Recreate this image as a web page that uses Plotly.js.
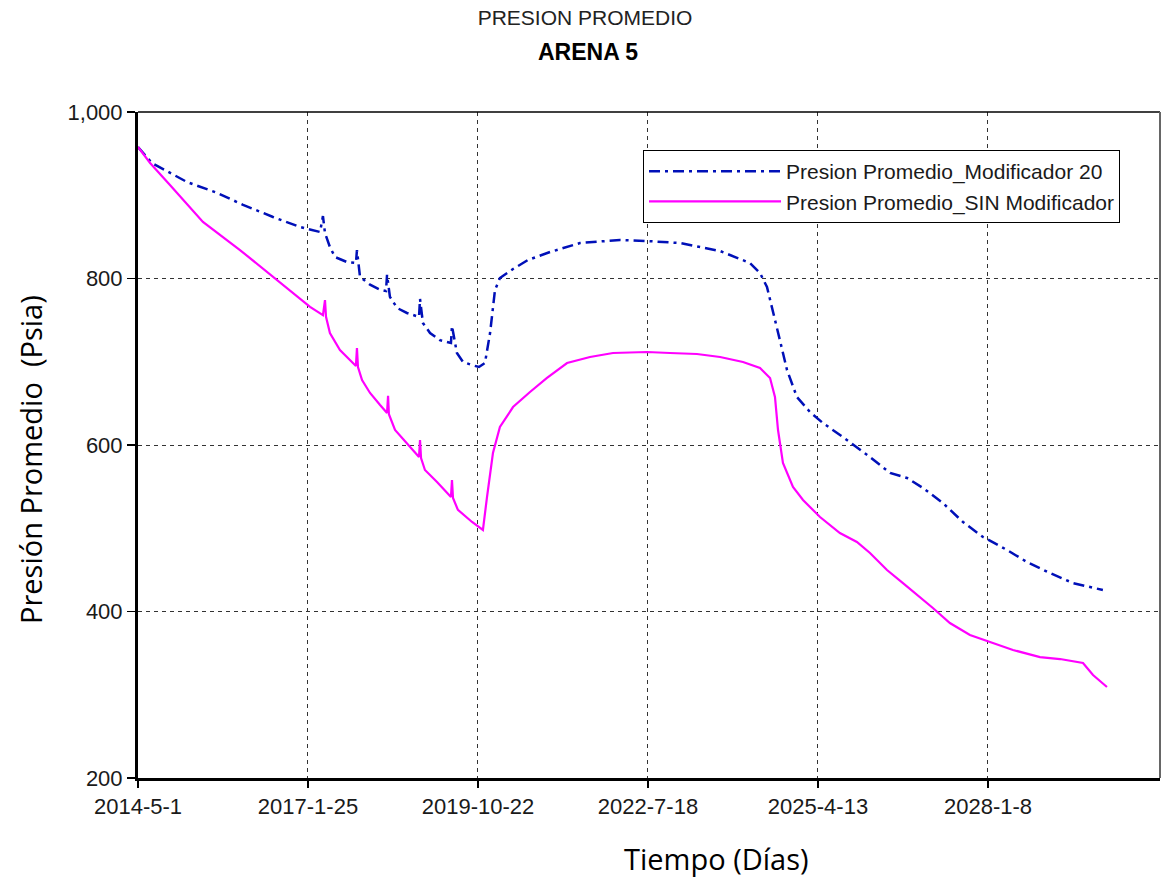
<!DOCTYPE html>
<html>
<head>
<meta charset="utf-8">
<script src="https://cdn.plot.ly/plotly-3.0.1.min.js"></script>
<style>html,body{margin:0;padding:0;background:#fff;}#chart{width:1163px;height:878px;}</style>
</head>
<body>
<div id="chart"></div>
<script>
// Días desde 2014-5-1
const tickDays = [0, 1000, 2000, 3000, 4000, 5000];
const tickLabels = ["2014-5-1", "2017-1-25", "2019-10-22", "2022-7-18", "2025-4-13", "2028-1-8"];

const sinDias = [0,71,188,382,600,794,1012,1088,1100,1106,1129,1188,1282,1288,1294,1318,1365,1424,1465,1471,1476,1512,1582,1653,1659,1665,1688,1759,1841,1847,1853,1882,1965,2029,2053,2088,2129,2206,2306,2406,2524,2659,2794,2994,3129,3288,3424,3559,3659,3718,3747,3765,3794,3853,3912,4012,4129,4229,4306,4406,4500,4600,4676,4776,4894,5012,5147,5306,5424,5559,5618,5700];
const sinPresion = [958,938.7,912.3,867.9,834.2,801.8,765.8,756,774,754,734.5,714,695,716.5,693.7,678,662.5,648,638.4,659,637,618,602.4,585.6,606,584.4,570,555.6,537.5,558,536.3,522,507.5,497.9,537.5,590.4,621.6,645.6,663.7,680.5,698.5,705.7,710.5,711.7,710.5,709.3,705.7,699.7,692.5,680.5,657.7,618,578.4,549.5,533.9,513.5,494.3,483.5,470.3,449.8,434.2,417.4,404.2,386.2,371.8,363.4,353.8,345.3,342.9,338.1,323.7,309.3];

const modDias = [0,82,288,465,618,794,953,1071,1088,1100,1129,1159,1229,1282,1288,1306,1365,1424,1459,1465,1482,1524,1582,1653,1659,1676,1718,1776,1841,1847,1876,1912,1965,2006,2041,2071,2100,2129,2206,2294,2424,2600,2835,3000,3188,3424,3600,3659,3700,3735,3776,3818,3876,3953,4029,4147,4188,4306,4424,4524,4618,4735,4853,4971,5112,5229,5365,5500,5676];
const modPresion = [958,938.7,915.9,902.9,888.5,873.9,861.9,855.9,875,854.6,837.8,825.8,819.8,818.6,834,802,792.5,786.5,785,804.5,778,764.6,758.6,753.8,775.4,746.6,734.5,726,722.5,743,710.5,699.7,696,693.7,698.5,734.5,786.2,800.6,811.4,822.2,831.8,842.6,846.3,845,842.6,833,818.6,806.6,789.8,762,726,690,657.7,639.6,626.4,609.6,603.6,585.6,566.4,560.4,548.3,530.3,507.5,489.5,473.9,459.5,446.2,434.2,425.8];

const traces = [
  {x: modDias, y: modPresion, type: 'scatter', mode: 'lines', name: 'Presion Promedio_Modificador 20',
   line: {color: '#0010b8', width: 2.5, dash: '11px,5px,3px,5px'}},
  {x: sinDias, y: sinPresion, type: 'scatter', mode: 'lines', name: 'Presion Promedio_SIN Modificador',
   line: {color: '#ff00ff', width: 2.2}}
];

const tickFont = {family: 'Liberation Sans, Arial, sans-serif', size: 22, color: '#1a1a1a'};

const layout = {
  width: 1163, height: 878,
  margin: {l: 138, r: 3, t: 112, b: 100},
  paper_bgcolor: '#fff', plot_bgcolor: '#fff',
  showlegend: true,
  hovermode: false,
  title: {text: 'PRESION PROMEDIO', x: 0.503, xanchor: 'center', y: 1 - 18/878, yanchor: 'middle',
          font: {family: 'Liberation Sans, Arial, sans-serif', size: 21, color: '#222'}},
  xaxis: {
    range: [0, 6012], tickvals: tickDays, ticktext: tickLabels,
    showline: true, linecolor: '#000', linewidth: 3,
    ticks: 'outside', ticklen: 7, tickcolor: '#000', tickwidth: 1.5,
    showgrid: true, gridcolor: '#333', griddash: '4px,4px', gridwidth: 1,
    zeroline: false, tickfont: tickFont
  },
  yaxis: {
    range: [200, 1000], tickvals: [200, 400, 600, 800, 1000], tickformat: ',d',
    showline: true, linecolor: '#000', linewidth: 3,
    ticks: 'outside', ticklen: 8, tickcolor: '#000', tickwidth: 1.5,
    showgrid: true, gridcolor: '#333', griddash: '4px,4px', gridwidth: 1,
    zeroline: false, tickfont: tickFont
  },
  legend: {
    x: (643 - 138) / 1022, y: (778 - 150) / 666, xanchor: 'left', yanchor: 'top',
    bgcolor: '#fff', bordercolor: '#000', borderwidth: 1,
    font: {family: 'Liberation Sans, Arial, sans-serif', size: 21, color: '#1a1a1a'},
    itemwidth: 132, tracegroupgap: 0
  },
  shapes: [
    {type: 'line', xref: 'paper', yref: 'paper', x0: 0, x1: 1, y0: 1, y1: 1, line: {color: '#000', width: 1.5}},
    {type: 'line', xref: 'paper', yref: 'paper', x0: 1, x1: 1, y0: 0, y1: 1, line: {color: '#666', width: 2}}
  ],
  annotations: [
    {text: '<b>ARENA 5</b>', xref: 'paper', yref: 'paper', x: (588 - 138) / 1022, y: (778 - 52) / 666,
     xanchor: 'center', yanchor: 'middle', showarrow: false,
     font: {family: 'Liberation Sans, Arial, sans-serif', size: 23, color: '#000'}},
    {text: 'Presión Promedio  (Psia)', xref: 'paper', yref: 'paper', x: (30 - 138) / 1022, y: (778 - 460) / 666,
     xanchor: 'center', yanchor: 'middle', textangle: -90, showarrow: false,
     font: {family: 'Open Sans, sans-serif', size: 29, color: '#000'}},
    {text: 'Tiempo (Días)', xref: 'paper', yref: 'paper', x: (716 - 138) / 1022, y: (778 - 858) / 666,
     xanchor: 'center', yanchor: 'middle', showarrow: false,
     font: {family: 'Open Sans, sans-serif', size: 29, color: '#000'}}
  ]
};

Plotly.newPlot('chart', traces, layout, {displayModeBar: false, staticPlot: true});
</script>
</body>
</html>
